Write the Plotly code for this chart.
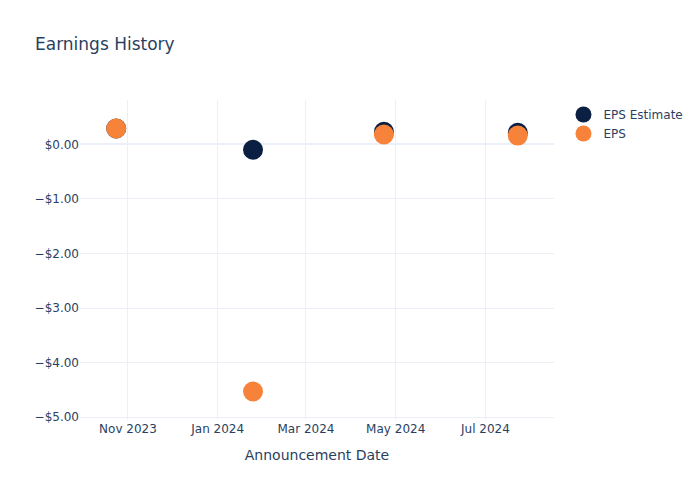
import plotly.graph_objects as go

dates = ["2023-10-24", "2024-01-25", "2024-04-23", "2024-07-23"]
eps_estimate = [0.29, -0.10, 0.23, 0.21]
eps_actual = [0.29, -4.53, 0.18, 0.16]

fig = go.Figure()
fig.add_trace(go.Scatter(x=dates, y=eps_estimate, mode="markers", name="EPS Estimate",
                         marker=dict(color="#0B1F42", size=20)))
fig.add_trace(go.Scatter(x=dates, y=eps_actual, mode="markers", name="EPS",
                         marker=dict(color="#F7833A", size=20)))
fig.update_layout(
    template="plotly_white",
    font=dict(family="DejaVu Sans"),
    title=dict(text="Earnings History"),
    width=700, height=500,
    xaxis=dict(title="Announcement Date"),
    yaxis=dict(tickformat="$.2f"),
)
fig.write_html("out.html", config={"displayModeBar": False},
               post_script="document.body.style.margin='0';")
